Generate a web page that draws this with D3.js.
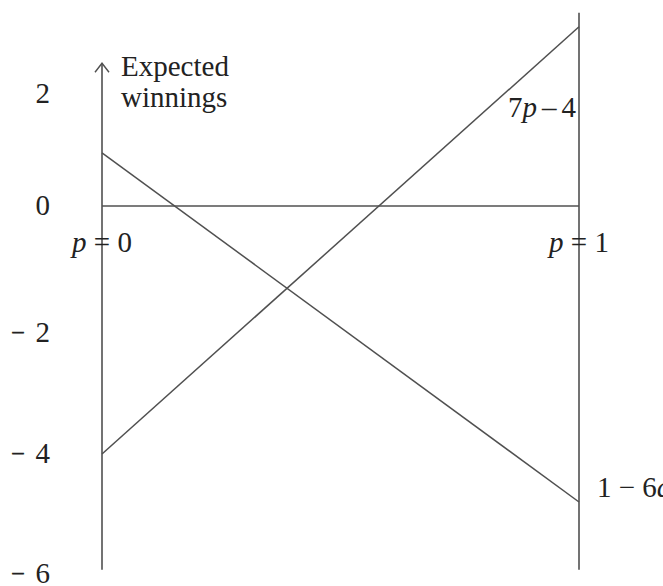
<!DOCTYPE html>
<html>
<head>
<meta charset="utf-8">
<script src="https://cdn.jsdelivr.net/npm/d3@7"></script>
<style>
  html, body { margin: 0; padding: 0; background: #ffffff; }
</style>
</head>
<body>
<svg id="chart" width="663" height="586"></svg>
<script>
// ---- data ----
const pValues = [0, 1];                       // p at the two vertical lines
const lineQ = [0.95, -4.8];                   // 1 − 6q line, values at p=0 and p=1
const lineP = [-4, 3.2];                      // 7p − 4 line, values at p=0 and p=1
const lineZero = [0, 0];                      // zero line
const tickValues = [2, 0, -2, -4, -6];
const tickSigns = ["", "", "\u2013", "\u2013", "\u2013"];
const tickDigits = ["2", "0", "2", "4", "6"];
const leftAxisExtent = [-5.93, 2.55];
const rightAxisExtent = [-5.93, 3.45];

// ---- scales ----
const FONT = "'Liberation Serif', 'Times New Roman', Times, serif";
const FS = 29;
const svg = d3.select("#chart");
const x = d3.scaleLinear().domain([0, 1]).range([102, 579]);
// the figure is not drawn exactly to scale: calibrate on its tick labels
const y = d3.scaleLinear().domain([-6, -4, -2, 0, 2]).range([574, 454, 333, 206, 94]);

const stroke = "#505050";
const textFill = "#222222";

function txt(sel) {
  return sel.attr("font-family", FONT).attr("fill", textFill).attr("font-size", FS);
}

// vertical lines (p = 0 and p = 1)
svg.append("line")
  .attr("x1", x(0)).attr("x2", x(0))
  .attr("y1", y(leftAxisExtent[0])).attr("y2", y(leftAxisExtent[1]))
  .attr("stroke", stroke).attr("stroke-width", 1.6);
svg.append("line")
  .attr("x1", x(1)).attr("x2", x(1))
  .attr("y1", y(rightAxisExtent[0])).attr("y2", y(rightAxisExtent[1]))
  .attr("stroke", stroke).attr("stroke-width", 1.6);

// arrowhead on left axis
const ax = x(0), ay = y(leftAxisExtent[1]);
svg.append("path")
  .attr("d", `M${ax - 7},${ay + 9} L${ax},${ay} L${ax + 7},${ay + 9}`)
  .attr("fill", "none").attr("stroke", stroke).attr("stroke-width", 1.4);

// lines
const lineGen = d3.line().x((d, i) => x(pValues[i])).y(d => y(d));
[lineZero, lineQ, lineP].forEach(vals => {
  svg.append("path")
    .attr("d", lineGen(vals))
    .attr("fill", "none").attr("stroke", stroke).attr("stroke-width", 1.5);
});

// tick labels
tickValues.forEach((v, i) => {
  const t = txt(svg.append("text"))
    .attr("x", 50).attr("y", y(v) + 9)
    .attr("text-anchor", "end");
  if (tickSigns[i]) {
    t.append("tspan").attr("font-size", 22).attr("dy", -4)
      .attr("stroke", textFill).attr("stroke-width", 0.6).text(tickSigns[i]);
    t.append("tspan").attr("dx", 12).attr("dy", 4).text(tickDigits[i]);
  } else {
    t.text(tickDigits[i]);
  }
});

// axis title
const title = txt(svg.append("text")).attr("x", 121).attr("y", 76);
title.append("tspan").attr("x", 121).attr("y", 76).text("Expected");
title.append("tspan").attr("x", 121).attr("y", 107).text("winnings");

// p = 0 / p = 1 labels
function pLabel(px, val) {
  const t = txt(svg.append("text")).attr("x", px).attr("y", 252)
    .attr("text-anchor", "middle");
  t.append("tspan").attr("font-style", "italic").text("p");
  t.append("tspan").text(" = " + val);
}
pLabel(x(0), "0");
pLabel(x(1), "1");

// line labels
const l1 = txt(svg.append("text")).attr("x", 508).attr("y", 117);
l1.append("tspan").text("7");
l1.append("tspan").attr("font-style", "italic").text("p");
l1.append("tspan").attr("dx", 5).text("\u2013");
l1.append("tspan").attr("dx", 5).text("4");

const l2 = txt(svg.append("text")).attr("x", 597).attr("y", 497);
l2.append("tspan").text("1 \u2212 6");
l2.append("tspan").attr("font-style", "italic").text("q");
</script>
</body>
</html>
